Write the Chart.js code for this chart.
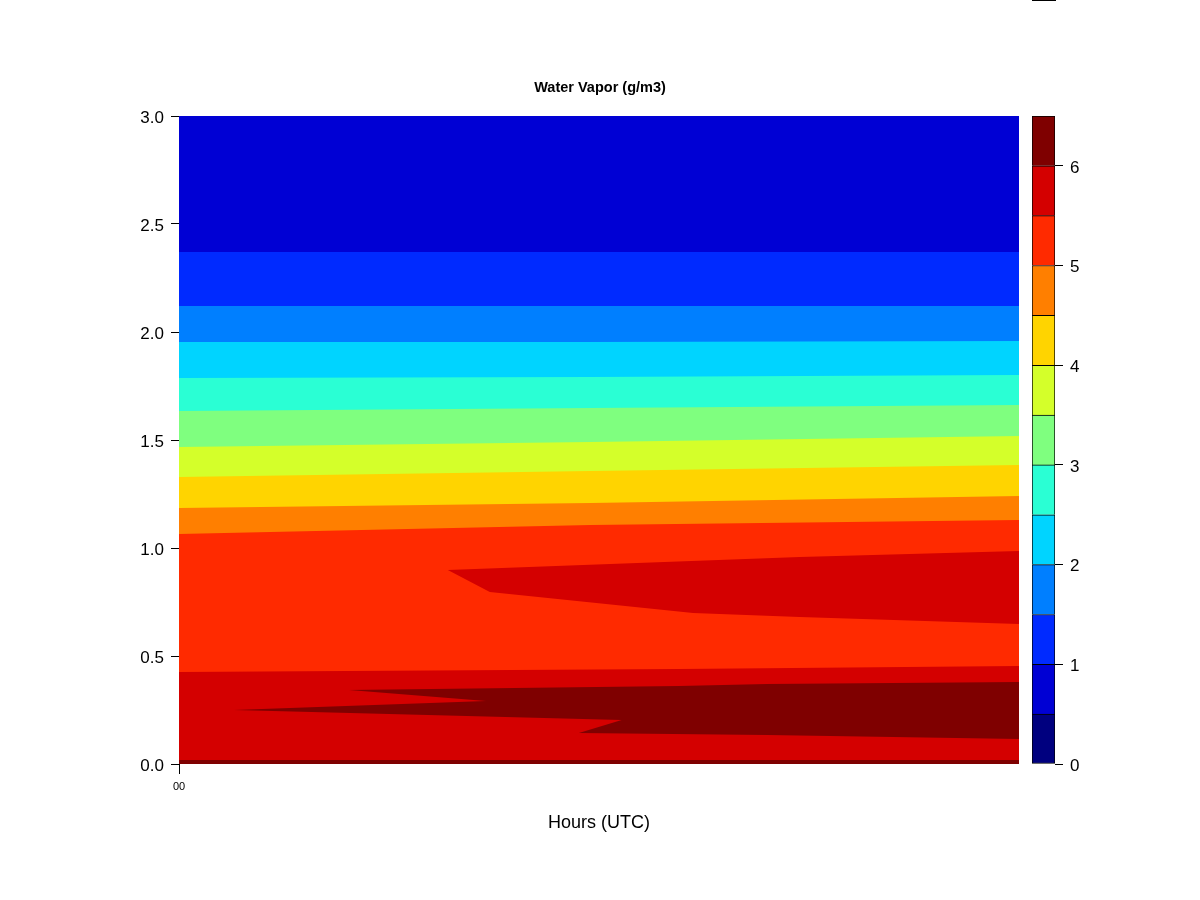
<!DOCTYPE html>
<html>
<head>
<meta charset="utf-8">
<script src="https://cdn.jsdelivr.net/npm/chart.js@4.4.0/dist/chart.umd.min.js"></script>
<style>
  html, body { margin: 0; padding: 0; background: #fff; }
  #wrap { position: relative; width: 1200px; height: 900px; }
  #main { position: absolute; left: 0; top: 0; }
  #key { position: absolute; left: 1000px; top: 0; }
  #mark { position: absolute; left: 1032px; top: 0; width: 24px; height: 1px; background: #000; }
</style>
</head>
<body>
<div id="wrap">
  <canvas id="main" width="1200" height="900"></canvas>
  <canvas id="key" width="200" height="900"></canvas>
  <div id="mark"></div>
</div>
<script>
// contour levels (g/m3) and the colour of each band between them
const levels = [0, 0.5, 1, 1.5, 2, 2.5, 3, 3.5, 4, 4.5, 5, 5.5, 6, 6.5];
const bandColors = ['#00007F', '#0000D4', '#002AFF', '#007FFF', '#00D4FF', '#2AFFD4', '#7FFF7F',
                    '#D4FF2A', '#FFD400', '#FF7F00', '#FF2A00', '#D40000', '#7F0000'];

const yTicks = [0, 0.5, 1, 1.5, 2, 2.5, 3];
const yTickLabels = ['0.0', '0.5', '1.0', '1.5', '2.0', '2.5', '3.0'];
const xTicks = [0];
const xTickLabels = ['00'];
const keyTicks = [0, 1, 2, 3, 4, 5, 6];

// height of each contour line, read at the left edge, the middle and the right edge
const lineX = [0, 0.49, 1];
const h10 = [2.370, 2.370, 2.370];
const h15 = [2.120, 2.120, 2.120];
const h20 = [1.954, 1.954, 1.958];
const h25 = [1.787, 1.792, 1.801];
const h30 = [1.634, 1.648, 1.662];
const h35 = [1.468, 1.491, 1.519];
const h40 = [1.329, 1.356, 1.384];
const h45 = [1.185, 1.208, 1.241];
const h50 = [1.065, 1.106, 1.130];

// 5.5 line near the ground
const low55X = [0, 0.595, 1];
const low55 = [0.426, 0.440, 0.454];

// 5.5 tongue aloft (upper and lower edge)
const tongueTopX = [0.320, 0.739, 1];
const tongueTop = [0.898, 0.958, 0.986];
const tongueBotX = [0.320, 0.370, 0.612, 0.739, 1];
const tongueBot = [0.898, 0.796, 0.699, 0.681, 0.648];

// 6.0 core near the ground, outline in order
const core60X = [0.0655, 0.3655, 0.2024, 0.5952, 0.700, 1, 1, 0.700, 0.476, 0.527];
const core60 = [0.250, 0.2917, 0.3426, 0.361, 0.370, 0.380, 0.116, 0.134, 0.1435, 0.2037];

// thin 6.0 layer at the surface
const surf60X = [0, 1];
const surf60 = [0.018, 0.018];

Chart.defaults.font.family = '"Liberation Sans", Arial, sans-serif';
Chart.defaults.color = '#000';

function pts(xs, ys) {
  return xs.map((x, i) => ({ x: x, y: ys[i] }));
}
// region under a contour line, down to the ground
function below(xs, ys) {
  return pts(xs, ys).concat([{ x: 1, y: 0 }, { x: 0, y: 0 }]);
}

// painted bottom-up: each later shape covers the earlier ones
const shapes = [
  [[{ x: 0, y: 0 }, { x: 0, y: 3 }, { x: 1, y: 3 }, { x: 1, y: 0 }], bandColors[1]],
  [below(lineX, h10), bandColors[2]],
  [below(lineX, h15), bandColors[3]],
  [below(lineX, h20), bandColors[4]],
  [below(lineX, h25), bandColors[5]],
  [below(lineX, h30), bandColors[6]],
  [below(lineX, h35), bandColors[7]],
  [below(lineX, h40), bandColors[8]],
  [below(lineX, h45), bandColors[9]],
  [below(lineX, h50), bandColors[10]],
  [below(low55X, low55), bandColors[11]],
  [pts(tongueTopX, tongueTop).concat(pts(tongueBotX, tongueBot).reverse()), bandColors[11]],
  [pts(core60X, core60), bandColors[12]],
  [below(surf60X, surf60), bandColors[12]]
];

const datasets = shapes.map((s, i) => ({
  data: s[0],
  backgroundColor: s[1],
  borderWidth: 0,
  pointRadius: 0,
  fill: 'shape',
  order: shapes.length - i
}));

new Chart(document.getElementById('main'), {
  type: 'line',
  data: { datasets: datasets },
  options: {
    responsive: false,
    animation: false,
    events: [],
    layout: { padding: 0 },
    plugins: {
      legend: { display: false },
      tooltip: { enabled: false },
      title: {
        display: true,
        text: 'Water Vapor (g/m3)',
        color: '#000',
        font: { size: 14.5, weight: 'bold' },
        padding: { top: 79.3, bottom: 19.3 }
      }
    },
    scales: {
      x: {
        type: 'linear',
        min: 0,
        max: 1,
        afterFit: s => { s.height = 136; },
        afterBuildTicks: s => { s.ticks = xTicks.map(v => ({ value: v })); },
        ticks: {
          callback: v => xTickLabels[xTicks.indexOf(v)],
          font: { size: 11 },
          padding: 6,
          maxRotation: 0,
          autoSkip: false
        },
        grid: { drawOnChartArea: false, color: '#000', tickLength: 10 },
        border: { display: false },
        title: {
          display: true,
          text: 'Hours (UTC)',
          font: { size: 18 },
          padding: { top: 0, bottom: 66.2 }
        }
      },
      y: {
        min: 0,
        max: 3,
        afterFit: s => { s.width = 179; },
        afterBuildTicks: s => { s.ticks = yTicks.map(v => ({ value: v })); },
        ticks: {
          callback: v => yTickLabels[yTicks.indexOf(v)],
          font: { size: 17 },
          padding: 7,
          labelOffset: 2
        },
        grid: { drawOnChartArea: false, color: '#000', tickLength: 8 },
        border: { display: true, color: '#000', width: 1 }
      },
      yR: {
        position: 'right',
        display: true,
        afterFit: s => { s.width = 181; },
        ticks: { display: false },
        grid: { display: false },
        border: { display: false }
      }
    }
  }
});

// colour key
new Chart(document.getElementById('key'), {
  type: 'bar',
  data: {
    labels: [''],
    datasets: bandColors.map((c, i) => ({
      data: [levels[i + 1] - levels[i]],
      backgroundColor: c,
      borderColor: '#000',
      borderWidth: { top: 1, left: 1, right: 1, bottom: i === 0 ? 1 : 0 },
      borderSkipped: false,
      barPercentage: 1,
      categoryPercentage: 1,
      stack: 'key'
    }))
  },
  options: {
    responsive: false,
    animation: false,
    events: [],
    layout: { padding: { left: 32, top: 116, bottom: 136, right: 0 } },
    plugins: { legend: { display: false }, tooltip: { enabled: false } },
    scales: {
      x: { display: false, stacked: true },
      y: {
        stacked: true,
        position: 'right',
        min: 0,
        max: 6.5,
        afterFit: s => { s.width = 145; },
        afterBuildTicks: s => { s.ticks = keyTicks.map(v => ({ value: v })); },
        ticks: { font: { size: 17 }, padding: 7, labelOffset: 2 },
        grid: { drawOnChartArea: false, color: '#000', tickLength: 8 },
        border: { display: false }
      }
    }
  }
});
</script>
</body>
</html>
